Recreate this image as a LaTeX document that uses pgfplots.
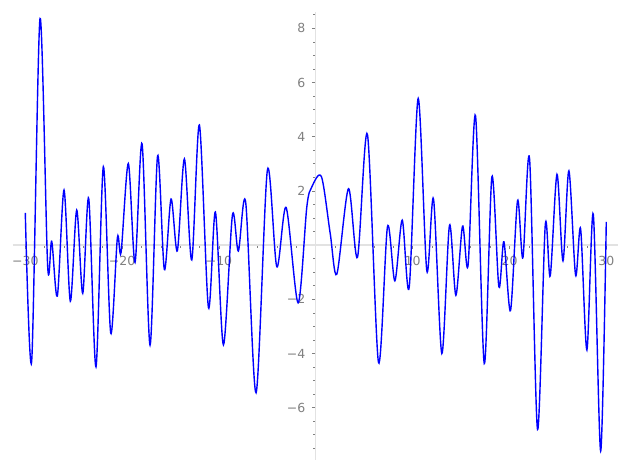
\documentclass[border=0pt]{standalone}
\usepackage{pgfplots}
\pgfplotsset{compat=1.18}
\usepackage{fontspec}
\setmainfont{DejaVu Sans}
\definecolor{axgray}{RGB}{226,226,226}
\definecolor{tkgray}{RGB}{128,128,128}
\begin{document}
\begin{tikzpicture}
\useasboundingbox (-12.7bp,-10bp) rectangle (614.3bp,460bp);
\begin{axis}[
  at={(0,0)}, anchor=south west,
  scale only axis, width=605.3bp, height=448bp,
  xmin=-31.3, xmax=31.2, ymin=-7.93, ymax=8.6,
  axis lines=middle,
  axis line style={draw=axgray, line width=1.2bp, -},
  tick align=outside,
  major tick length=4bp, minor tick length=2.5bp,
  every tick/.style={draw=tkgray, line width=0.6bp},
  xtick={-30,-20,-10,0,10,20,30},
  xticklabels={−30,−20,−10,,10,20,30},
  ytick={-6,-4,-2,0,2,4,6,8},
  yticklabels={−6,−4,−2,,2,4,6,8},
  minor xtick={-28,-26,-24,-22,-18,-16,-14,-12,-8,-6,-4,-2,2,4,6,8,12,14,16,18,22,24,26,28},
  minor ytick={-7.5,-7,-6.5,-5.5,-5,-4.5,-3.5,-3,-2.5,-1.5,-1,-0.5,0.5,1,1.5,2.5,3,3.5,4.5,5,5.5,6.5,7,7.5,8.5},
  tick label style={font=\fontsize{12.5bp}{14bp}\selectfont, text=tkgray},
  xticklabel style={yshift=-4bp},
  yticklabel style={xshift=-3bp},
  clip=false,
]
\addplot[color={rgb,255:red,0;green,0;blue,255}, line width=1.4bp, smooth, tension=0.5] coordinates {
(-30.00,1.19)
(-29.34,-4.28)
(-28.48,8.36)
(-27.69,-0.77)
(-27.27,0.14)
(-26.69,-1.88)
(-26.00,2.03)
(-25.35,-2.07)
(-24.69,1.29)
(-24.07,-1.78)
(-23.45,1.72)
(-22.70,-4.49)
(-21.94,2.89)
(-21.18,-3.24)
(-20.49,0.27)
(-20.11,-0.27)
(-19.36,3.01)
(-18.67,-0.64)
(-17.94,3.73)
(-17.12,-3.69)
(-16.34,3.29)
(-15.64,-0.90)
(-14.95,1.70)
(-14.30,-0.21)
(-13.57,3.18)
(-12.81,-0.55)
(-12.02,4.43)
(-11.09,-2.30)
(-10.37,1.22)
(-9.54,-3.68)
(-8.61,1.11)
(-8.00,-0.22)
(-7.24,1.57)
(-6.17,-5.45)
(-5.00,2.77)
(-4.03,-0.80)
(-3.07,1.39)
(-1.83,-2.13)
(-0.93,1.41)
(-0.41,2.15)
(0.58,2.52)
(1.48,0.44)
(2.17,-1.07)
(3.37,2.08)
(4.30,-0.45)
(5.33,4.08)
(6.47,-4.33)
(7.40,0.68)
(8.16,-1.32)
(8.92,0.92)
(9.64,-1.56)
(10.57,5.41)
(11.46,-0.95)
(12.15,1.70)
(13.01,-4.00)
(13.80,0.73)
(14.46,-1.85)
(15.15,0.70)
(15.72,-0.74)
(16.49,4.77)
(17.39,-4.37)
(18.18,2.52)
(18.90,-1.54)
(19.42,0.12)
(20.10,-2.42)
(20.83,1.64)
(21.38,-0.47)
(22.07,3.18)
(22.89,-6.80)
(23.69,0.74)
(24.20,-1.14)
(24.90,2.61)
(25.52,-0.58)
(26.13,2.74)
(26.82,-1.11)
(27.34,0.60)
(27.99,-3.87)
(28.65,1.13)
(29.41,-7.60)
(29.99,0.86)
};
\end{axis}
\end{tikzpicture}
\end{document}
